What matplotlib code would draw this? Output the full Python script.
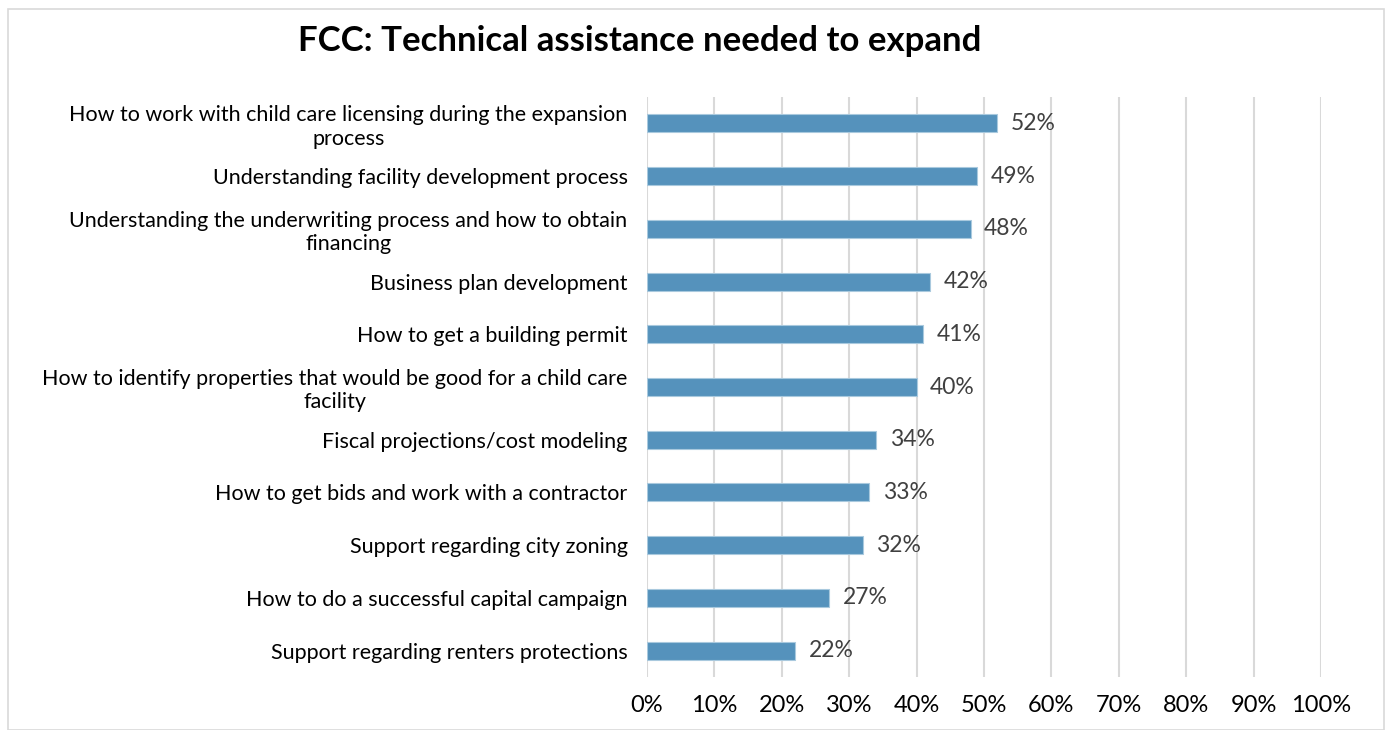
import matplotlib
matplotlib.use("Agg")
import matplotlib.pyplot as plt
from matplotlib.patches import Rectangle

categories = [
    "How to work with child care licensing during the expansion\nprocess",
    "Understanding facility development process",
    "Understanding the underwriting process and how to obtain\nfinancing",
    "Business plan development",
    "How to get a building permit",
    "How to identify properties that would be good for a child care\nfacility",
    "Fiscal projections/cost modeling",
    "How to get bids and work with a contractor",
    "Support regarding city zoning",
    "How to do a successful capital campaign",
    "Support regarding renters protections",
]
values = [52, 49, 48, 42, 41, 40, 34, 33, 32, 27, 22]
xticks = list(range(0, 101, 10))

plt.rcParams['font.family'] = ['Lato', 'DejaVu Sans']

fig = plt.figure(figsize=(13.85, 7.3), dpi=100)
ax = fig.add_axes([647 / 1385, 1 - 677 / 730, (1321 - 647) / 1385, (677 - 97) / 730])

pos = list(range(len(categories)))
ax.barh(pos, values, height=0.34, color='#5592BC', edgecolor='#A9C9DE', linewidth=0.8, zorder=3)
for y, v in zip(pos, values):
    ax.text(v + 2.0, y, f"{v}%", va='center', ha='left', fontsize=16.5, color='#404040')

ax.set_xlim(0, 100)
ax.set_ylim(len(categories) - 0.5, -0.5)
ax.set_xticks(xticks)
ax.set_xticklabels([f"{t}%" for t in xticks], fontsize=17, color='black')
ax.set_yticks(pos)
ax.set_yticklabels(categories, fontsize=15.5, color='black', multialignment='center', linespacing=1.2)
ax.tick_params(axis='both', length=0)
ax.tick_params(axis='y', pad=14)
ax.tick_params(axis='x', pad=13)
ax.grid(axis='x', color='#D9D9D9', linewidth=1.5, zorder=0)
for s in ax.spines.values():
    s.set_visible(False)

fig.text(640 / 1385, 1 - 41 / 730, "FCC: Technical assistance needed to expand",
         ha='center', va='center', fontsize=25, fontweight='bold')

# light outer frame
fig.patches.append(Rectangle((8 / 1385, 0), 1 - 9 / 1385, 1 - 9 / 730, transform=fig.transFigure,
                             fill=False, edgecolor='#D9D9D9', linewidth=1.2))

fig.savefig("out.png", dpi=100)
